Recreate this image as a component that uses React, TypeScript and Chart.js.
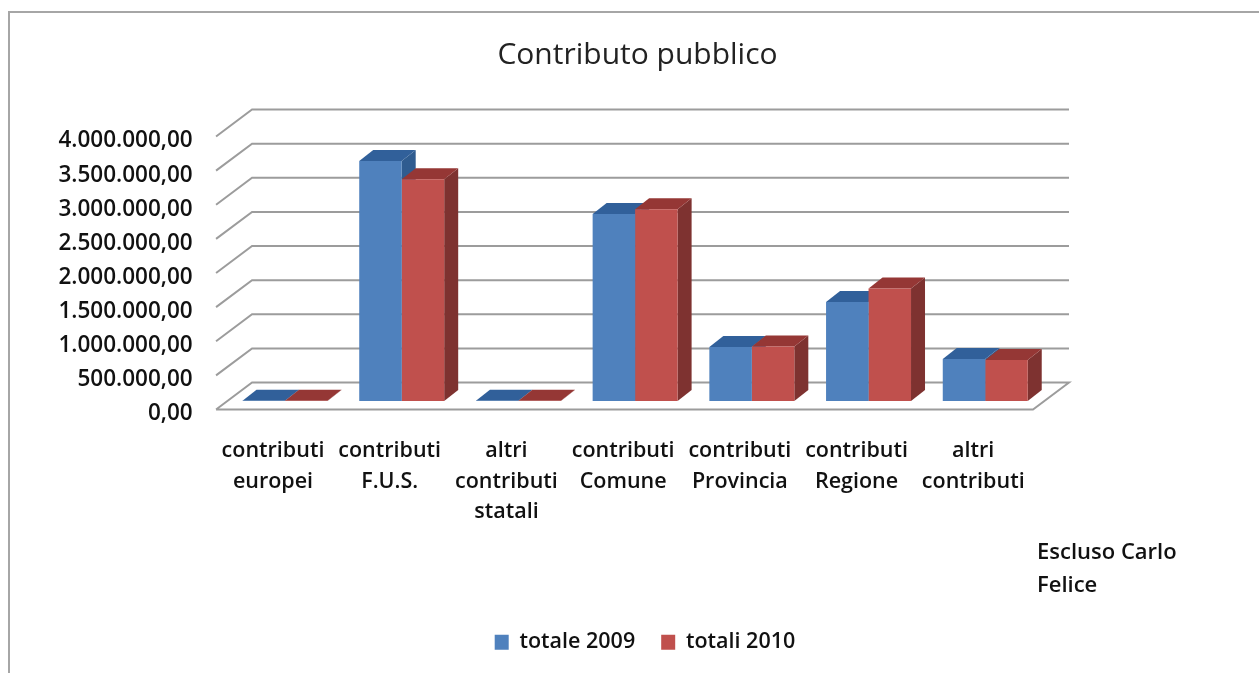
import React, { useEffect, useRef } from "react";
import { Chart, registerables } from "chart.js";

Chart.register(...registerables);

const TITLE = "Contributo pubblico";
const CATEGORIES = [
  ["contributi", "europei"],
  ["contributi", "F.U.S."],
  ["altri", "contributi", "statali"],
  ["contributi", "Comune"],
  ["contributi", "Provincia"],
  ["contributi", "Regione"],
  ["altri", "contributi"],
];
const TOTALE_2009 = [5000, 3516000, 5000, 2740000, 790000, 1450000, 615000];
const TOTALI_2010 = [5000, 3250000, 5000, 2810000, 800000, 1650000, 600000];
const NOTE_LINES = ["Escluso Carlo", "Felice"];

const FONT = '"Open Sans", sans-serif';
const TEXT = "#111111";
const GRID = "#9c9c9c";
const DEPTH_X = 14;
const DEPTH_Y = 11;

const formatIt = (v: number) =>
  v.toFixed(2).replace(".", ",").replace(/\B(?=(\d{3})+(?!\d))/g, ".");

const shade: Record<number, { top: string; side: string }> = {
  0: { top: "#31609a", side: "#2f5c90" },
  1: { top: "#953735", side: "#7e3230" },
};

const scene3d = {
  id: "scene3d",
  afterLayout(chart: any) {
    if (chart.legend) {
      chart.legend.left += 7.5;
      chart.legend.right += 7.5;
    }
  },
  beforeDatasetsDraw(chart: any) {
    const { ctx, chartArea: a, scales } = chart;
    const y = scales.y;
    ctx.save();
    // frame
    ctx.strokeStyle = "#a6a6a6";
    ctx.lineWidth = 2;
    ctx.beginPath();
    ctx.moveTo(9, 673);
    ctx.lineTo(9, 12);
    ctx.lineTo(1259, 12);
    ctx.stroke();
    // walls and floor
    const frontL = a.left - 10.6;
    const backL = a.left + 25.4;
    const backR = a.right + 25.4;
    const frontR = a.right - 10.6;
    ctx.strokeStyle = GRID;
    ctx.lineWidth = 2;
    y.ticks.forEach((t: any) => {
      const p = y.getPixelForValue(t.value);
      ctx.beginPath();
      ctx.moveTo(frontL, p + 8.5);
      ctx.lineTo(backL, p - 18.5);
      ctx.lineTo(backR, p - 18.5);
      if (t.value === 0) {
        ctx.lineTo(frontR, p + 8.5);
        ctx.lineTo(frontL, p + 8.5);
      }
      ctx.stroke();
    });
    // depth faces of the bars
    chart.data.datasets.forEach((_: any, di: number) => {
      const meta = chart.getDatasetMeta(di);
      meta.data.forEach((bar: any) => {
        const { x, y: top, base, width } = bar.getProps(["x", "y", "base", "width"], true);
        const l = x - width / 2;
        const r = x + width / 2;
        ctx.fillStyle = shade[di].side;
        ctx.beginPath();
        ctx.moveTo(r, top);
        ctx.lineTo(r + DEPTH_X, top - DEPTH_Y);
        ctx.lineTo(r + DEPTH_X, base - DEPTH_Y);
        ctx.lineTo(r, base);
        ctx.closePath();
        ctx.fill();
        ctx.fillStyle = shade[di].top;
        ctx.beginPath();
        ctx.moveTo(l, top);
        ctx.lineTo(l + DEPTH_X, top - DEPTH_Y);
        ctx.lineTo(r + DEPTH_X, top - DEPTH_Y);
        ctx.lineTo(r, top);
        ctx.closePath();
        ctx.fill();
      });
    });
    ctx.restore();
  },
  afterDraw(chart: any) {
    const { ctx } = chart;
    ctx.save();
    ctx.fillStyle = TEXT;
    ctx.font = `600 22px ${FONT}`;
    ctx.textAlign = "left";
    ctx.textBaseline = "middle";
    NOTE_LINES.forEach((line, i) => ctx.fillText(line, 1037, 553 + i * 33));
    ctx.restore();
  },
};

export default function App() {
  const ref = useRef<HTMLCanvasElement>(null);
  useEffect(() => {
    const chart = new Chart(ref.current!, {
      type: "bar",
      data: {
        labels: CATEGORIES,
        datasets: [
          { label: "totale 2009", data: TOTALE_2009, backgroundColor: "#4f81bd" },
          { label: "totali 2010", data: TOTALI_2010, backgroundColor: "#c0504d" },
        ],
      },
      options: {
        responsive: false,
        animation: false,
        layout: { padding: { left: 16, right: 0, top: 0, bottom: 10 } },
        datasets: { bar: { barPercentage: 1, categoryPercentage: 0.728 } },
        plugins: {
          tooltip: { enabled: false },
          title: {
            display: true,
            text: TITLE,
            color: "#222222",
            font: { family: FONT, size: 30, weight: "normal", lineHeight: 1.2 },
            padding: { top: 37, bottom: 55 },
          },
          legend: {
            position: "bottom",
            labels: {
              color: TEXT,
              font: { family: FONT, size: 21.5, weight: "600" },
              boxWidth: 14,
              boxHeight: 15,
              padding: 26,
            },
          },
        },
        scales: {
          x: {
            grid: { display: false },
            border: { display: false },
            afterFit: (s: any) => {
              s.height = 204.5;
            },
            ticks: {
              color: TEXT,
              font: { family: FONT, size: 21.5, weight: "600", lineHeight: 1.42 },
              padding: 27,
              labelOffset: -12,
              autoSkip: false,
              maxRotation: 0,
            },
          },
          y: {
            min: 0,
            max: 4000000,
            grid: { display: false },
            border: { display: false },
            afterFit: (s: any) => {
              s.width = 210.65;
            },
            ticks: {
              stepSize: 500000,
              color: TEXT,
              font: { family: FONT, size: 22.5, weight: "600" },
              padding: 26,
              labelOffset: 13,
              callback: (v: any) => formatIt(Number(v)),
            },
          },
          yRight: {
            position: "right",
            grid: { display: false },
            border: { display: false },
            ticks: { display: false },
            afterFit: (s: any) => {
              s.width = 215.4;
            },
          },
        },
      } as any,
      plugins: [scene3d],
    });
    return () => chart.destroy();
  }, []);
  return (
    <div style={{ position: "absolute", left: 0, top: 0 }}>
      <canvas ref={ref} width={1259} height={673} style={{ display: "block" }} />
    </div>
  );
}
